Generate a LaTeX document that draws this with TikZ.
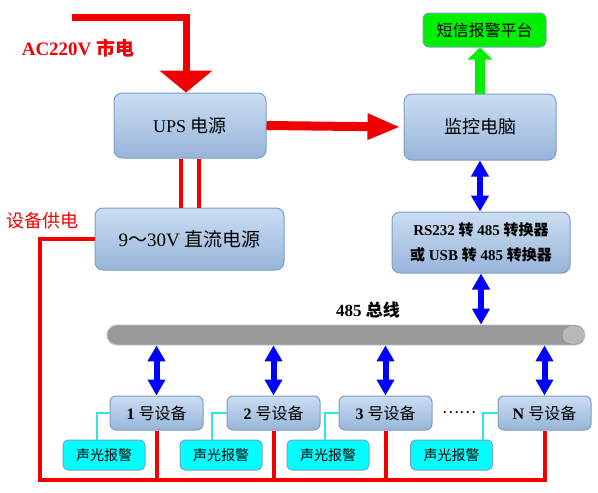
\documentclass[tikz,border=0pt]{standalone}
\usepackage{fontspec}
\setmainfont{Liberation Serif}
\newfontfamily\cjk{Noto Sans CJK SC}
\usepackage{xcolor}
\definecolor{boxtop}{HTML}{CBDDF2}
\definecolor{boxbot}{HTML}{97B5D9}
\definecolor{boxline}{HTML}{7F9DC4}
\definecolor{pwrred}{HTML}{F00000}
\definecolor{linkblue}{HTML}{0000FF}
\definecolor{smsgreen}{HTML}{00F000}
\definecolor{alarmcyan}{HTML}{00FFFF}
\definecolor{sigcyan}{HTML}{2EE6E6}
\definecolor{busgray}{HTML}{999999}
\definecolor{busend}{HTML}{B8B8B8}
\usetikzlibrary{arrows.meta,positioning}
\newcommand{\zh}[1]{{\cjk #1}}

\begin{document}
\begin{tikzpicture}[
  x=1pt,y=-1pt,
  box/.style={rectangle,rounded corners=8pt,draw=boxline,line width=1pt,top color=boxtop,bottom color=boxbot,align=center,inner sep=0pt,font=\fontsize{18}{22}\selectfont},
  dev/.style={box,rounded corners=6pt,minimum width=93pt,minimum height=34pt,font=\fontsize{16}{18}\selectfont},
  alarm/.style={rectangle,rounded corners=5pt,draw=boxline,line width=1pt,fill=alarmcyan,minimum width=82pt,minimum height=30pt,inner sep=0pt,font=\cjk\fontsize{14}{16}\selectfont},
  pwr/.style={draw=pwrred,line width=4pt},
  sig/.style={draw=sigcyan,line width=2pt},
  dbl/.style={draw=linkblue,line width=6pt,{Triangle[width=17pt,length=16pt]}-{Triangle[width=17pt,length=16pt]}},
  bigred/.style={draw=pwrred,line width=9pt,-{Triangle[width=24pt,length=33pt]}},
  acarr/.style={draw=pwrred,line width=7pt,-{Triangle[width=52pt,length=22pt]}},
  uparr/.style={draw=smsgreen,line width=10pt,-{Triangle[width=24pt,length=12pt]}}
]
\useasboundingbox (0,0) rectangle (598,493);

% top row
\node[box,minimum width=152pt,minimum height=65pt] (ups) at (190,125.5) {UPS \zh{电源}};
\node[box,minimum width=152pt,minimum height=66pt] (pc) at (480,127) {\zh{监控电脑}};
\node[rectangle,rounded corners=6pt,draw=boxline,line width=1pt,fill=smsgreen,minimum width=123pt,minimum height=34pt,font=\cjk\fontsize{16}{18}\selectfont] (sms) at (484.5,30) {短信报警平台};
\node[box,minimum width=189pt,minimum height=62pt,font=\fontsize{19}{22}\selectfont] (dc) at (189.5,239) {9\zh{～}30V \zh{直流电源}};
\node[box,minimum width=178pt,minimum height=61pt,font=\bfseries\fontsize{15}{25}\selectfont] (conv) at (481,242.5)
  {RS232 \zh{转} 485 \zh{转换器}\\\zh{或} USB \zh{转} 485 \zh{转换器}};

% labels
\node[text=pwrred,font=\bfseries\fontsize{19}{21}\selectfont] (aclbl) at (78,48) {AC220V \zh{市电}};
\node[text=pwrred,font=\cjk\fontsize{18}{20}\selectfont] (pwrlbl) at (42,221) {设备供电};
\node[font=\bfseries\fontsize{17}{20}\selectfont] (buslbl) at (368,310) {485 \zh{总线}};

% 485 bus
\node[rectangle,rounded corners=10pt,draw=boxline!60,line width=0.8pt,fill=busgray,minimum width=478pt,minimum height=20pt,inner sep=0pt] (bus) at (346,335) {};
\fill[busend] ([xshift=-12pt]bus.east) ellipse [x radius=11pt,y radius=9pt];

% devices
\node[dev] (dev1) at (156.5,413) {\textbf{1} \zh{号设备}};
\node[dev] (dev2) at (273.5,413) {\textbf{2} \zh{号设备}};
\node[dev] (dev3) at (385.5,413) {\textbf{3} \zh{号设备}};
\node[dev] (devN) at (544.5,413) {\textbf{N} \zh{号设备}};
\node[font=\cjk\fontsize{16}{18}\selectfont] (dots) at (459,413) {……};

\node[alarm] (al1) at (104,455) {声光报警};
\node[alarm] (al2) at (221,455) {声光报警};
\node[alarm] (al3) at (328,455) {声光报警};
\node[alarm] (alN) at (451.5,455) {声光报警};

% power
\coordinate (acin) at (72,17);
\coordinate (corner) at (40,480);
\draw[acarr] (acin) -| ([xshift=-4pt]ups.north);
\draw[bigred] (ups.east) -- ([xshift=-3pt]pc.west);
\draw[pwr] ([xshift=-9.5pt]ups.south) -- ([xshift=-9.5pt]ups.south |- dc.north);
\draw[pwr] ([xshift=9pt]ups.south) -- ([xshift=9pt]ups.south |- dc.north);
\draw[pwr] (dc.west) -| (corner) -| (devN.south);
\foreach \d in {dev1,dev2,dev3}
  \draw[pwr] (\d.south) -- (\d.south |- corner);

% data
\draw[uparr] (pc.north) -- (pc.north |- sms.south);
\draw[dbl] (pc.south) -- (pc.south |- conv.north);
\draw[dbl] (conv.south) -- (conv.south |- bus.north);
\foreach \d in {dev1,dev2,dev3,devN}
  \draw[dbl] (\d.north |- bus.south) -- (\d.north);

% alarms
\draw[sig] (dev1.west) -| ([xshift=-7pt]al1.north);
\draw[sig] (dev2.west) -| ([xshift=-9pt]al2.north);
\draw[sig] (dev3.west) -| ([xshift=-3pt]al3.north);
\draw[sig] (devN.west) -| ([xshift=31.5pt]alN.north);
\end{tikzpicture}
\end{document}
